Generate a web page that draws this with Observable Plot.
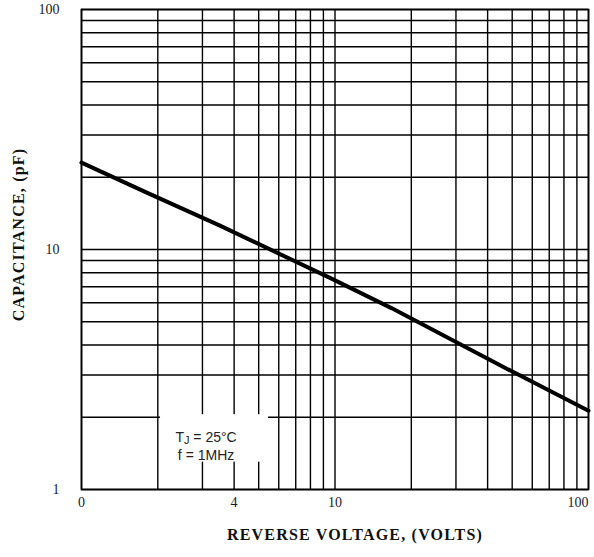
<!DOCTYPE html>
<html><head><meta charset="utf-8">
<script src="https://cdn.jsdelivr.net/npm/d3@7"></script>
<script src="https://cdn.jsdelivr.net/npm/@observablehq/plot@0.6"></script>
<style>body{margin:0;background:#fff} #chart svg{display:block}</style>
</head><body><div id="chart"></div>
<script>
// curve: reverse voltage (V) vs junction capacitance (pF)
const voltage = [1, 1.8, 3.5, 9.6, 16.7, 44.6, 100];
const capacitance = [23, 17.3, 12.6, 7.6, 5.7, 3.3, 2.13];
// log grid lines (both axes)
const gridValues = [1, 2, 3, 4, 5, 6, 7, 8, 9, 10, 20, 30, 40, 50, 60, 70, 80, 90, 100];
const xTickValues = [1, 4, 10, 100];
const xTickLabels = ["0", "4", "10", "100"];
const yTickValues = [1, 10, 100];
const yTickLabels = ["1", "10", "100"];
const xTitle = "REVERSE VOLTAGE, (VOLTS)";
const yTitle = "CAPACITANCE, (pF)";
const noteLines = ["TJ = 25°C", "f = 1MHz"];
const noteVoltage = 3.1;
const noteCapacitance = 1.53;
const noteBoxVoltage = [2.05, 5.47];
const noteBoxCapacitance = [1.3, 2.05];

const points = voltage.map((v, i) => ({v, c: capacitance[i]}));
const serif = "'Liberation Serif', 'DejaVu Serif', serif";
const sans = "'Liberation Sans', Arial, sans-serif";
const xMax = xTickValues[xTickValues.length - 1];

const chart = Plot.plot({
  width: 594,
  height: 557,
  marginLeft: 81,
  marginRight: 6,
  marginTop: 9,
  marginBottom: 68,
  style: {background: "white", color: "#111"},
  x: {type: "log", domain: [1, 100], axis: null},
  y: {type: "log", domain: [1, 100], axis: null},
  marks: [
    Plot.ruleX(gridValues, {stroke: "#000", strokeWidth: 1.4}),
    Plot.ruleY(gridValues, {stroke: "#000", strokeWidth: 1.4}),
    Plot.rect([0], {x1: noteBoxVoltage[0], x2: noteBoxVoltage[1], y1: noteBoxCapacitance[0], y2: noteBoxCapacitance[1], fill: "white"}),
    Plot.frame({stroke: "#000", strokeWidth: 1.7}),
    Plot.line(points, {x: "v", y: "c", stroke: "#000", strokeWidth: 4}),
    Plot.text([noteLines.join("\n")], {x: noteVoltage, y: noteCapacitance, text: d => d, fontFamily: sans, fontSize: 14, fill: "#222", lineHeight: 1.25}),
    // x tick labels
    Plot.text(xTickValues, {x: d => d, text: (d, i) => xTickLabels[i], filter: d => d < xMax, frameAnchor: "bottom", lineAnchor: "top", dy: 8, fontFamily: serif, fontSize: 14, fill: "#1a1a2e"}),
    Plot.text(xTickValues, {x: d => d, text: (d, i) => xTickLabels[i], filter: d => d === xMax, frameAnchor: "bottom", lineAnchor: "top", textAnchor: "end", dy: 8, fontFamily: serif, fontSize: 14, fill: "#1a1a2e"}),
    // y tick labels
    Plot.text(yTickValues, {y: d => d, text: (d, i) => yTickLabels[i], frameAnchor: "left", textAnchor: "end", dx: -22, fontFamily: serif, fontSize: 14, fill: "#1a1a2e"}),
    // titles
    Plot.text([xTitle], {frameAnchor: "bottom", lineAnchor: "middle", textAnchor: "middle", dx: 20, dy: 45, text: d => d, fontFamily: serif, fontWeight: "bold", fontSize: 16, fill: "#111"}),
    Plot.text([yTitle], {frameAnchor: "left", lineAnchor: "middle", textAnchor: "middle", rotate: -90, dx: -63, dy: -15, text: d => d, fontFamily: serif, fontWeight: "bold", fontSize: 16, fill: "#111"})
  ]
});
document.getElementById("chart").append(chart);

const svg = d3.select(chart);
// wider letter spacing for the bold axis titles
svg.selectAll("text").filter(function () { return this.textContent === xTitle || this.textContent === yTitle; })
  .attr("letter-spacing", 1.2);
// subscript J in "TJ"
svg.selectAll("text tspan").filter(function () { return this.textContent === noteLines[0]; }).each(function () {
  const t = d3.select(this);
  const txt = this.textContent;
  t.text(txt[0]);
  t.append("tspan").attr("dy", 2).attr("font-size", 11).text(txt[1]);
  t.append("tspan").attr("dy", -2).text(txt.slice(2));
});
</script>
</body></html>
